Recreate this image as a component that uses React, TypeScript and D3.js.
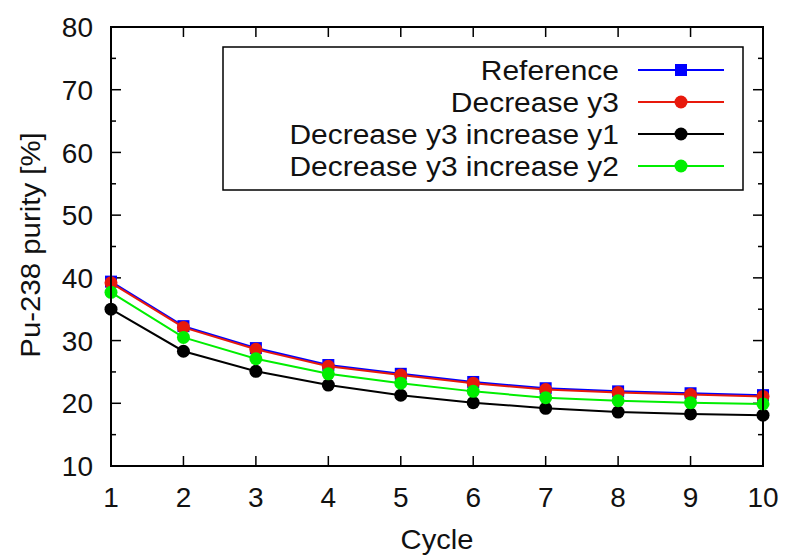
import React from "react";
import * as d3 from "d3";

const cycles = [1, 2, 3, 4, 5, 6, 7, 8, 9, 10];
const reference = [39.4, 32.3, 28.8, 26.1, 24.7, 23.4, 22.4, 21.9, 21.6, 21.3];
const decreaseY3 = [39.2, 32.1, 28.6, 25.9, 24.5, 23.2, 22.2, 21.7, 21.4, 21.1];
const decY3IncY1 = [35.0, 28.3, 25.1, 22.9, 21.3, 20.1, 19.2, 18.6, 18.3, 18.1];
const decY3IncY2 = [37.7, 30.5, 27.1, 24.7, 23.2, 21.9, 20.9, 20.4, 20.1, 19.9];
const yTicks = [10, 20, 30, 40, 50, 60, 70, 80];
const yMinor = [15, 25, 35, 45, 55, 65, 75];

const seriesNames = ["Reference", "Decrease y3", "Decrease y3 increase y1", "Decrease y3 increase y2"];
const seriesValues = [reference, decreaseY3, decY3IncY1, decY3IncY2];
const seriesColors = ["#0000ff", "#e8190c", "#000000", "#00ee00"];
const seriesMarkers = ["square", "circle", "circle", "circle"];

export default function App() {
  const W = 788, H = 555;
  const left = 111, right = 763, top = 27, bottom = 466;
  const x = d3.scaleLinear().domain([1, 10]).range([left, right]);
  const y = d3.scaleLinear().domain([10, 80]).range([bottom, top]);
  const line = d3.line<number>().x((_, i) => x(cycles[i])).y((v) => y(v));
  const font = "'Liberation Sans', Arial, Helvetica, sans-serif";
  const fs = 28;

  const marker = (kind: string, cx: number, cy: number, color: string, key: string) =>
    kind === "square" ? (
      <rect key={key} x={cx - 6} y={cy - 6} width={12} height={12} fill={color} />
    ) : (
      <circle key={key} cx={cx} cy={cy} r={6.5} fill={color} />
    );

  const legX1 = 638, legX2 = 724, legMid = 681, legTextX = 619;
  const legRows = [70, 102, 134, 166];

  return (
    <svg width={W} height={H} style={{ position: "absolute", left: 0, top: 0, background: "#fff" }} fontFamily={font}>
      <rect x={0} y={0} width={W} height={H} fill="#fff" />
      {/* ticks */}
      {yTicks.map((t) => (
        <g key={"yt" + t}>
          <line x1={left} x2={left + 10} y1={y(t)} y2={y(t)} stroke="#000" strokeWidth={1.5} />
          <line x1={right} x2={right - 10} y1={y(t)} y2={y(t)} stroke="#000" strokeWidth={1.5} />
          <text x={93} y={y(t)} dy="0.36em" textAnchor="end" fontSize={fs} fill="#111">{t}</text>
        </g>
      ))}
      {yMinor.map((t) => (
        <g key={"ym" + t}>
          <line x1={left} x2={left + 5} y1={y(t)} y2={y(t)} stroke="#000" strokeWidth={1.5} />
          <line x1={right} x2={right - 5} y1={y(t)} y2={y(t)} stroke="#000" strokeWidth={1.5} />
        </g>
      ))}
      {cycles.map((c) => (
        <g key={"xt" + c}>
          <line x1={x(c)} x2={x(c)} y1={bottom} y2={bottom - 10} stroke="#000" strokeWidth={1.5} />
          <line x1={x(c)} x2={x(c)} y1={top} y2={top + 10} stroke="#000" strokeWidth={1.5} />
          <text x={x(c)} y={507} textAnchor="middle" fontSize={fs} fill="#111">{c}</text>
        </g>
      ))}
      {/* series */}
      {seriesValues.map((vals, si) => (
        <g key={"s" + si}>
          <path d={line(vals) || ""} fill="none" stroke={seriesColors[si]} strokeWidth={2} />
          {vals.map((v, i) => marker(seriesMarkers[si], x(cycles[i]), y(v), seriesColors[si], "m" + si + "_" + i))}
        </g>
      ))}
      {/* legend */}
      <rect x={223} y={47} width={520} height={143} fill="#fff" stroke="#000" strokeWidth={1.5} />
      {seriesNames.map((n, si) => (
        <g key={"l" + si}>
          <text transform={`translate(${legTextX},${legRows[si]}) scale(1.07,1)`} dy="0.36em" textAnchor="end" fontSize={fs} fill="#111">{n}</text>
          <line x1={legX1} x2={legX2} y1={legRows[si]} y2={legRows[si]} stroke={seriesColors[si]} strokeWidth={2} />
          {marker(seriesMarkers[si], legMid, legRows[si], seriesColors[si], "lm" + si)}
        </g>
      ))}
      {/* frame */}
      <rect x={left} y={top} width={right - left} height={bottom - top} fill="none" stroke="#000" strokeWidth={2} />
      {/* axis titles */}
      <text transform="translate(437,549) scale(1.04,1)" textAnchor="middle" fontSize={fs} fill="#111">Cycle</text>
      <text transform="translate(40,245) rotate(-90) scale(1.05,1)" textAnchor="middle" fontSize={fs} fill="#111">Pu-238 purity [%]</text>
    </svg>
  );
}
